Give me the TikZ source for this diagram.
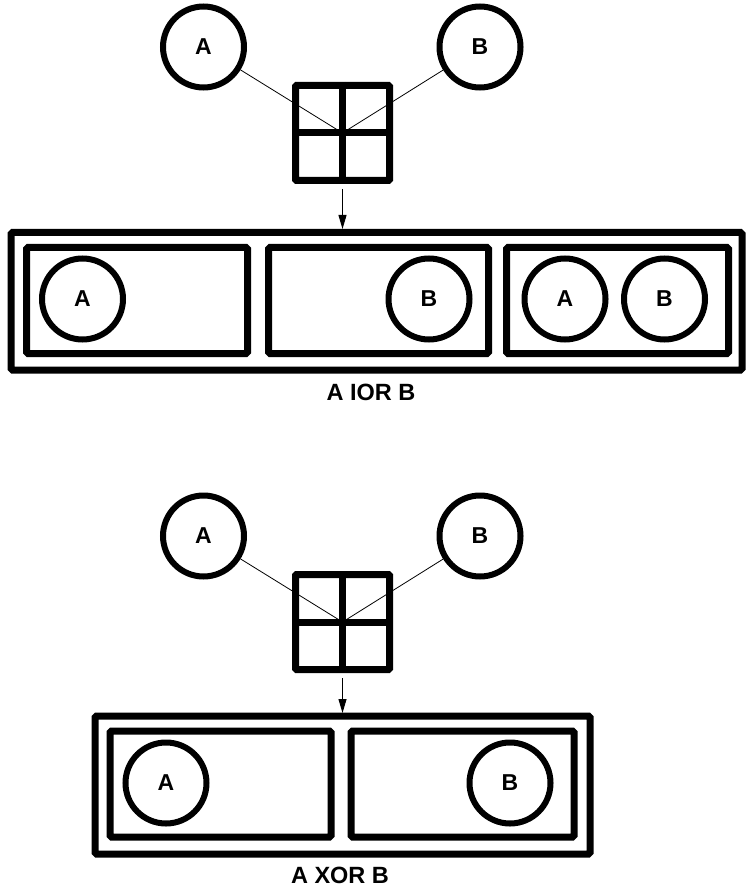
\documentclass[tikz,border=0pt]{standalone}
\usepackage{fontspec}
\setmainfont{Liberation Sans}
\usetikzlibrary{arrows.meta}
\begin{document}
\begin{tikzpicture}[x=1pt,y=-1pt,
  circ/.style={circle,draw,line width=6pt,minimum size=81pt,inner sep=0pt,font=\fontsize{23}{25}\selectfont\bfseries},
  box/.style={rectangle,draw,line width=7pt,rounded corners=1.5pt,inner sep=0pt},
  gridbox/.style={rectangle,draw,line width=7pt,rounded corners=1pt,minimum width=94pt,minimum height=95pt,inner sep=0pt},
  cross/.style={line width=7pt},
  link/.style={line width=0.8pt},
  flow/.style={line width=1pt,-{Triangle[length=14pt,width=8pt]},shorten <=5pt},
  lbl/.style={font=\fontsize{23.5}{25}\selectfont\bfseries}]
\useasboundingbox (0,0) rectangle (754,890);

% ---------- top: A IOR B ----------
\node[gridbox] (g1) at (342.5,133) {};
\draw[cross] (g1.north) -- (g1.south);
\draw[cross] (g1.west) -- (g1.east);
\node[circ] (a1) at (203.5,47) {A};
\node[circ] (b1) at (480,47) {B};
\draw[link] (a1) -- (g1.center);
\draw[link] (b1) -- (g1.center);

\node[box,minimum width=731pt,minimum height=137.5pt] (o1) at (376.5,301.25) {};
\node[box,minimum width=221pt,minimum height=106pt] (r11) at (137,300.5) {};
\node[box,minimum width=220pt,minimum height=106pt] (r12) at (378.5,300.5) {};
\node[box,minimum width=222pt,minimum height=106pt] (r13) at (617.5,300.5) {};
\node[circ] (ca11) at (82.5,299) {A};
\node[circ] (cb12) at (429,299) {B};
\node[circ] (ca13) at (565,299) {A};
\node[circ] (cb13) at (664.5,299) {B};
\coordinate (t1) at (342.5,229);
\draw[flow] (g1.south) -- (t1);
\node[lbl] (l1) at (371,392) {A IOR B};

% ---------- bottom: A XOR B ----------
\node[gridbox] (g2) at (342.5,622) {};
\draw[cross] (g2.north) -- (g2.south);
\draw[cross] (g2.west) -- (g2.east);
\node[circ] (a2) at (203.5,536) {A};
\node[circ] (b2) at (480,536) {B};
\draw[link] (a2) -- (g2.center);
\draw[link] (b2) -- (g2.center);

\node[box,minimum width=495pt,minimum height=138pt] (o2) at (342.5,785) {};
\node[box,minimum width=221pt,minimum height=106pt] (r21) at (220.5,784) {};
\node[box,minimum width=223pt,minimum height=106pt] (r22) at (462.5,784) {};
\node[circ] (ca21) at (166,783) {A};
\node[circ] (cb22) at (510,783) {B};
\coordinate (t2) at (342.5,713);
\draw[flow] (g2.south) -- (t2);
\node[lbl] (l2) at (340,875) {A XOR B};
\end{tikzpicture}
\end{document}
